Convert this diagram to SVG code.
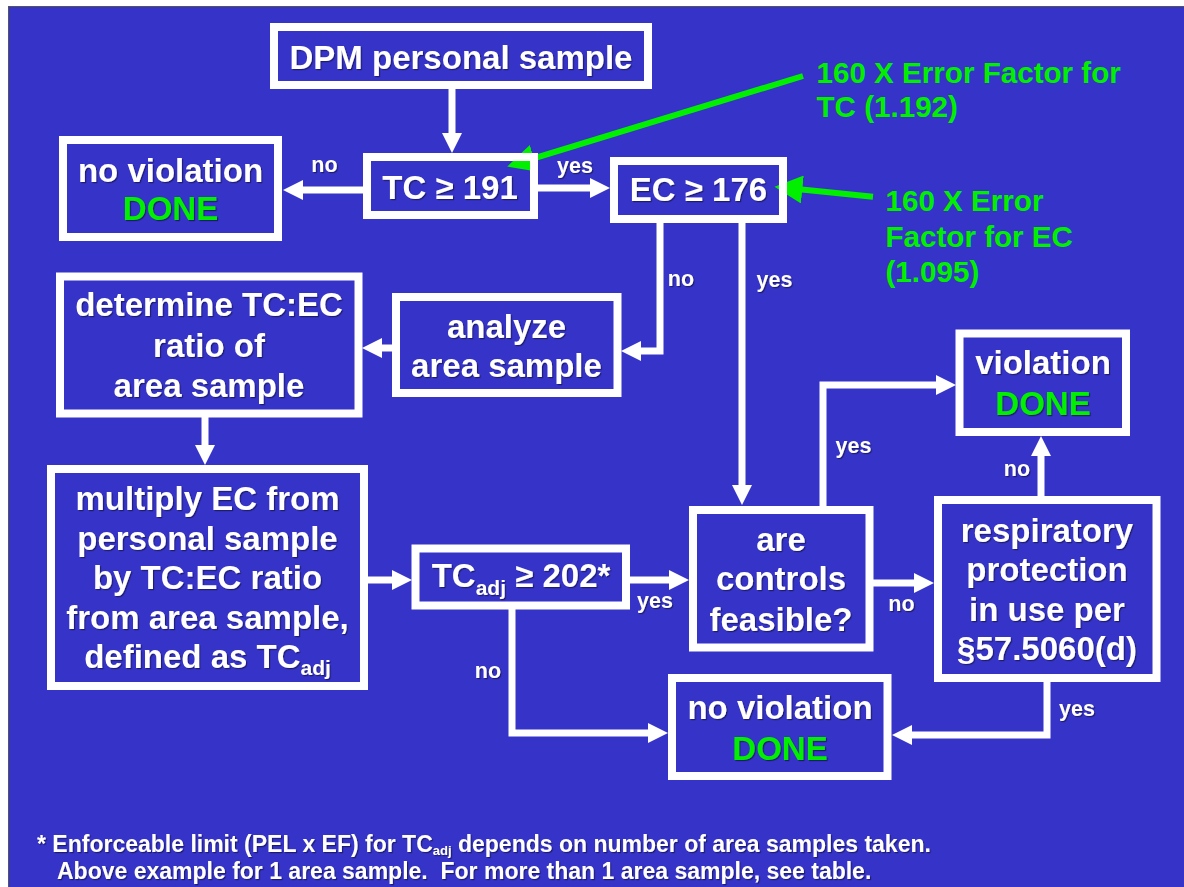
<svg xmlns="http://www.w3.org/2000/svg" width="1184" height="887" viewBox="0 0 1184 887">
<style>
.bg{fill:#3633C8;stroke:#555;stroke-width:1}
.box{fill:none;stroke:#fff;stroke-width:8}
.t{font-family:"Liberation Sans",Arial,sans-serif;font-weight:bold;font-size:33px;fill:#fff;text-anchor:middle;filter:url(#sh)}
.g{fill:#00F000}
.lbl{font-size:21.5px}
.gt{font-family:"Liberation Sans",Arial,sans-serif;font-weight:bold;font-size:29.6px;fill:#00F000}
.ft{font-family:"Liberation Sans",Arial,sans-serif;font-weight:bold;font-size:23px;fill:#fff;filter:url(#sh)}
.sub{font-size:21px}
.fsub{font-size:13px}
.conn{fill:none;stroke:#fff;stroke-width:7;marker-end:url(#ah)}
.garr{fill:none;stroke:#00F000;stroke-width:6;marker-end:url(#gah)}
</style>
<defs>
<filter id="sh" x="-5%" y="-10%" width="110%" height="130%">
<feDropShadow dx="1.2" dy="1.2" stdDeviation="0.4" flood-color="#000" flood-opacity="0.45"/>
</filter>
<marker id="ah" markerUnits="userSpaceOnUse" markerWidth="20" markerHeight="20" refX="10" refY="10" orient="auto">
<path d="M0,0 L20,10 L0,20 Z" fill="#fff"/>
</marker>
<marker id="gah" markerUnits="userSpaceOnUse" markerWidth="28" markerHeight="28" refX="13" refY="14" orient="auto">
<path d="M0,0 L28,14 L0,28 Z" fill="#00F000"/>
</marker>
</defs>
<rect class="bg" x="8.5" y="6.5" width="1180" height="885"/>

<g id="connectors">
<path class="conn" d="M452,89 V143"/>
<path class="conn" d="M363,190 H293"/>
<path class="conn" d="M538,188 H600"/>
<path class="conn" d="M660,223 V351 H631"/>
<path class="conn" d="M742,223 V495"/>
<path class="conn" d="M392,348 H372"/>
<path class="conn" d="M205,417 V455"/>
<path class="conn" d="M368,580 H402"/>
<path class="conn" d="M630,580 H679"/>
<path class="conn" d="M873,583 H924"/>
<path class="conn" d="M823,506 V385 H946"/>
<path class="conn" d="M1041,496 V446"/>
<path class="conn" d="M1047,682 V735 H902"/>
<path class="conn" d="M512,609 V733 H658"/>
<path class="garr" d="M803,76 L521.5,162.2"/>
<path class="garr" d="M873,196.7 L789.4,188.2"/>
<g class="t lbl">
<text x="324.5" y="172">no</text>
<text x="575" y="173">yes</text>
<text x="681" y="286">no</text>
<text x="774.5" y="287">yes</text>
<text x="853.5" y="453">yes</text>
<text x="1017" y="476">no</text>
<text x="655" y="608">yes</text>
<text x="901.5" y="611">no</text>
<text x="488" y="678">no</text>
<text x="1077" y="716">yes</text>
</g>
</g>

<g id="n-dpm">
<rect class="box" x="274" y="27" width="374" height="58"/>
<text class="t" x="461" y="69">DPM personal sample</text>
</g>

<g id="n-noviol1">
<rect class="box" x="63" y="140" width="215" height="97"/>
<text class="t" x="170.5" y="181.5">no violation</text>
<text class="t g" x="170.5" y="220">DONE</text>
</g>

<g id="n-tc191">
<rect class="box" x="367" y="157" width="167" height="58"/>
<text class="t" x="450" y="199">TC ≥ 191</text>
</g>

<g id="n-ec176">
<rect class="box" x="614" y="161" width="169" height="58"/>
<text class="t" x="698.5" y="201">EC ≥ 176</text>
</g>

<g id="n-note-tc">
<text class="gt"><tspan x="816.5" y="82.5">160 X Error Factor for</tspan><tspan x="816.5" y="117">TC (1.192)</tspan></text>
</g>

<g id="n-note-ec">
<text class="gt"><tspan x="885.5" y="211">160 X Error</tspan><tspan x="885.5" y="247">Factor for EC</tspan><tspan x="885.5" y="282">(1.095)</tspan></text>
</g>

<g id="n-determine">
<rect class="box" x="60" y="276.5" width="298.5" height="137"/>
<text class="t"><tspan x="209" y="316">determine TC:EC</tspan><tspan x="209" y="356.5">ratio of</tspan><tspan x="209" y="396.5">area sample</tspan></text>
</g>

<g id="n-analyze">
<rect class="box" x="396" y="297" width="221.5" height="96"/>
<text class="t"><tspan x="506.5" y="337.5">analyze</tspan><tspan x="506.5" y="377">area sample</tspan></text>
</g>

<g id="n-multiply">
<rect class="box" x="51" y="469" width="313" height="217"/>
<text class="t"><tspan x="207.5" y="510">multiply EC from</tspan><tspan x="207.5" y="549.5">personal sample</tspan><tspan x="207.5" y="589">by TC:EC ratio</tspan><tspan x="207.5" y="628.5">from area sample,</tspan></text>
<text class="t" x="207.5" y="668">defined as TC<tspan class="sub" dy="7">adj</tspan></text>
</g>

<g id="n-tcadj">
<rect class="box" x="415.5" y="548.5" width="210.5" height="57"/>
<text class="t" x="521" y="587">TC<tspan class="sub" dy="8">adj</tspan><tspan dy="-8"> ≥ 202*</tspan></text>
</g>

<g id="n-controls">
<rect class="box" x="693" y="510" width="176.5" height="137.5"/>
<text class="t"><tspan x="781" y="551">are</tspan><tspan x="781" y="590">controls</tspan><tspan x="781" y="631">feasible?</tspan></text>
</g>

<g id="n-violation">
<rect class="box" x="959.5" y="333.5" width="166.5" height="98.5"/>
<text class="t" x="1043" y="374">violation</text>
<text class="t g" x="1043" y="415">DONE</text>
</g>

<g id="n-resp">
<rect class="box" x="938" y="500" width="218.5" height="178"/>
<text class="t"><tspan x="1047" y="541.5">respiratory</tspan><tspan x="1047" y="581">protection</tspan><tspan x="1047" y="621">in use per</tspan><tspan x="1047" y="660">§57.5060(d)</tspan></text>
</g>

<g id="n-noviol2">
<rect class="box" x="672" y="678" width="215.5" height="98"/>
<text class="t" x="780" y="718.5">no violation</text>
<text class="t g" x="780" y="759.5">DONE</text>
</g>

<g id="footnote">
<text class="ft" x="37" y="852">* Enforceable limit (PEL x EF) for TC<tspan class="fsub" dy="3">adj</tspan><tspan dy="-3"> depends on number of area samples taken.</tspan></text>
<text class="ft" x="57" y="879" xml:space="preserve">Above example for 1 area sample.  For more than 1 area sample, see table.</text>
</g>
</svg>
